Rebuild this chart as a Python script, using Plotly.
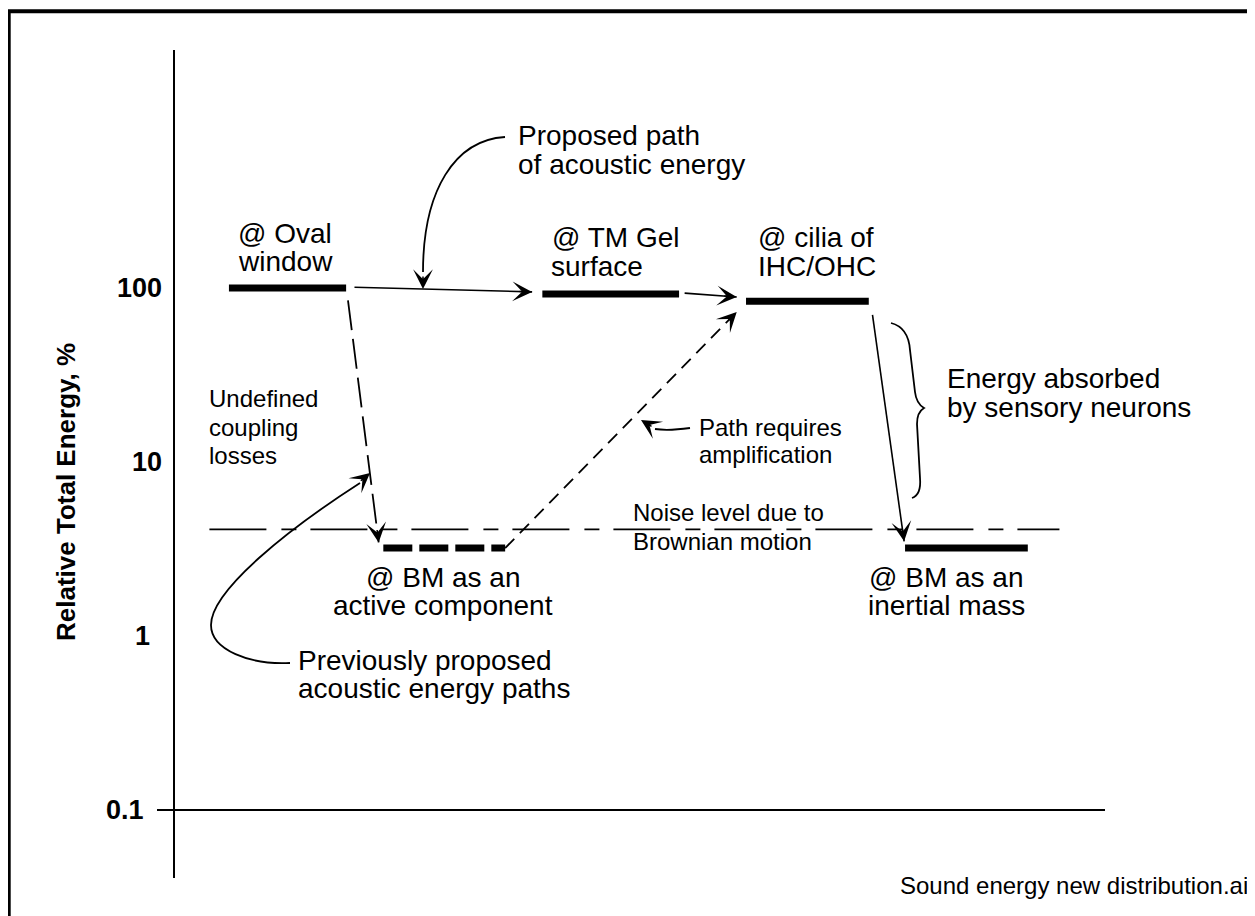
import math
import plotly.graph_objects as go

# energy levels of each stage (relative total energy, %) and their horizontal extent
# (x is an arbitrary position scale, 0-100)
stage_names = ["Oval window", "TM Gel surface", "cilia of IHC/OHC",
               "BM as an active component", "BM as an inertial mass"]
stage_x0 = [5.8, 39.5, 61.4, 22.4, 78.5]
stage_x1 = [18.4, 54.2, 74.6, 35.5, 91.7]
stage_energy = [100, 92.5, 84, 3.2, 3.2]
stage_dashed = [False, False, False, True, False]

# Brownian noise floor
noise_x = [3.7, 95.1]
noise_energy = 4.1

# proposed path of acoustic energy (solid arrows)
proposed_x = [[19.3, 38.4], [54.8, 60.4], [75.0, 78.4]]
proposed_e = [[101, 95], [93.5, 88.7], [70, 3.5]]

# previously proposed paths (dashed arrows)
previous_x = [[18.6, 21.9], [35.5, 60.4]]
previous_e = [[85, 3.45], [3.2, 72.8]]

tick_vals = [0.1, 1, 10, 100]
tick_text = ["0.1", "1", "10", "100"]

# page geometry in pixels (the browser adds an 8px body margin)
W, H, OFF = 1255, 916, 8
L, R, T, B = 175, 1105, 50, 878
y_range = [-1.391, 3.368]
FONT = "Liberation Sans, Arial, Helvetica, sans-serif"


def px(x):
    return (x - L) / (R - L)


def py(y):
    return (B - y) / (B - T)


x_scale = (R - L) / 100.0
y_scale = (B - T) / (y_range[1] - y_range[0])

fig = go.Figure()

# stage bars
for x0, x1, e, dashed in zip(stage_x0, stage_x1, stage_energy, stage_dashed):
    fig.add_trace(go.Scatter(
        x=[x0, x1], y=[e, e], mode='lines',
        line=dict(color='black', width=7, dash='29px,7px' if dashed else 'solid'),
        hoverinfo='skip', showlegend=False))

# noise floor
fig.add_trace(go.Scatter(
    x=noise_x, y=[noise_energy, noise_energy], mode='lines',
    line=dict(color='black', width=1.6, dash='57px,15px,15px,14px'),
    hoverinfo='skip', showlegend=False))

annotations = []
HEAD = dict(showarrow=True, text='', font=dict(size=1), arrowhead=3, arrowsize=2.2,
            arrowwidth=1.5, arrowcolor='black', standoff=0)


def head_on_axes(xs, es):
    # arrowhead at the end of a data segment, oriented along it
    dx = (xs[1] - xs[0]) * x_scale
    dy = -(math.log10(es[1]) - math.log10(es[0])) * y_scale
    n = math.hypot(dx, dy)
    return dict(x=xs[1], y=math.log10(es[1]), xref='x', yref='y',
                ax=-dx / n * 14, ay=-dy / n * 14, **HEAD)


for xs, es in zip(proposed_x, proposed_e):
    fig.add_trace(go.Scatter(x=xs, y=es, mode='lines',
                             line=dict(color='black', width=1.6),
                             hoverinfo='skip', showlegend=False))
    annotations.append(head_on_axes(xs, es))

for xs, es, dash in zip(previous_x, previous_e, ["30px,9px", "13px,8px"]):
    fig.add_trace(go.Scatter(x=xs, y=es, mode='lines',
                             line=dict(color='black', width=1.8, dash=dash),
                             hoverinfo='skip', showlegend=False))
    annotations.append(head_on_axes(xs, es))


def head_paper(x, y, dx, dy):
    n = math.hypot(dx, dy)
    return dict(x=px(x), y=py(y), xref='paper', yref='paper',
                ax=dx / n * 14, ay=dy / n * 14, **HEAD)


def path(d):
    # d: list of (cmd, [(x, y), ...]) in page pixels -> paper path
    s = ''
    for cmd, pts in d:
        s += cmd + ' ' + ' '.join('%.5f,%.5f' % (px(a), py(b)) for a, b in pts) + ' '
    return dict(type='path', xref='paper', yref='paper', path=s.strip(),
                line=dict(color='black', width=1.8))


shapes = [
    # x axis at 0.1 %
    dict(type='line', xref='paper', yref='y', x0=px(157), x1=1, y0=0.1, y1=0.1,
         line=dict(color='black', width=2)),
    # frame
    dict(type='rect', xref='paper', yref='paper', x0=px(8.7), x1=px(1252),
         y0=py(11.3), y1=py(935), line=dict(color='black', width=4)),
    # "Proposed path" pointer
    path([('M', [(505, 137)]), ('C', [(455, 140), (423, 190), (423, 272)])]),
    # "Previously proposed" pointer
    path([('M', [(290, 663)]), ('C', [(250, 665), (211, 650), (211, 625)]),
          ('C', [(211, 590), (290, 528), (360, 483)])]),
    # "Path requires amplification" pointer
    path([('M', [(690, 428)]), ('Q', [(668, 431), (655, 429)])]),
    # brace
    path([('M', [(891, 323)]), ('C', [(903, 326), (909, 336), (910, 350)]),
          ('L', [(915, 392)]), ('C', [(916, 401), (919, 405), (924, 408)]),
          ('C', [(919, 411), (917, 416), (917, 424)]), ('L', [(920, 478)]),
          ('C', [(921, 490), (918, 496), (912, 498)])]),
]

annotations += [
    head_paper(423, 289, 0, -1),
    head_paper(370, 473, -1, 0.85),
    head_paper(641, 420, 1, 0.6),
]

# tick labels, hand-placed like in the original artwork (right edge in page px)
tick_right = [146, 152, 164, 164]
for v, t, xr in zip(tick_vals, tick_text, tick_right):
    annotations.append(dict(
        text=t, x=px(xr), y=math.log10(v), xref='paper', yref='y',
        xanchor='right', yanchor='middle', showarrow=False,
        font=dict(family=FONT, size=27, color='black', weight='bold')))

labels = [
    ("@ Oval", 285, 243, 28, 'center'),
    ("window", 285, 271, 28, 'center'),
    ("Proposed path", 516, 145, 28, 'left'),
    ("of acoustic energy", 516, 174, 28, 'left'),
    ("@ TM Gel", 550, 247, 28, 'left'),
    ("surface", 549, 276, 28, 'left'),
    ("@ cilia of", 756, 247, 28, 'left'),
    ("IHC/OHC", 756, 276, 28, 'left'),
    ("Energy absorbed", 945, 388, 28, 'left'),
    ("by sensory neurons", 945, 417, 28, 'left'),
    ("@ BM as an", 443, 587, 28, 'center'),
    ("active component", 443, 615, 28, 'center'),
    ("@ BM as an", 946, 587, 28, 'center'),
    ("inertial mass", 946, 615, 28, 'center'),
    ("Previously proposed", 296, 670, 28, 'left'),
    ("acoustic energy paths", 296, 698, 28, 'left'),
    ("Undefined", 207, 407, 24, 'left'),
    ("coupling", 207, 436, 24, 'left'),
    ("losses", 207, 464, 24, 'left'),
    ("Path requires", 697, 436, 24, 'left'),
    ("amplification", 697, 463, 24, 'left'),
    ("Noise level due to", 631, 521, 24, 'left'),
    ("Brownian motion", 631, 550, 24, 'left'),
    ("Sound energy new distribution.ai", 1250, 894, 24, 'right'),
]
for text, x, base, size, anchor in labels:
    annotations.append(dict(
        text=text, x=px(x), y=py(base - 0.35 * size), xref='paper', yref='paper',
        xanchor=anchor, yanchor='middle', showarrow=False,
        font=dict(family=FONT, size=size, color='black')))

# y axis title
annotations.append(dict(
    text="Relative Total Energy, %", x=px(66), y=py(492), xref='paper', yref='paper',
    textangle=-90, showarrow=False, xanchor='center', yanchor='middle',
    font=dict(family=FONT, size=26, color='black', weight='bold')))

fig.update_layout(
    width=W - OFF, height=H - OFF,
    margin=dict(l=L - OFF, r=W - R, t=T - OFF, b=H - B),
    paper_bgcolor='white', plot_bgcolor='white',
    showlegend=False,
    xaxis=dict(range=[0, 100], visible=False, fixedrange=True),
    yaxis=dict(type='log', range=y_range, showline=True, linecolor='black', linewidth=1.5,
               showgrid=False, zeroline=False, tickvals=tick_vals,
               showticklabels=False, ticks='', fixedrange=True),
    shapes=shapes,
    annotations=annotations,
)

fig.write_html("out.html")
